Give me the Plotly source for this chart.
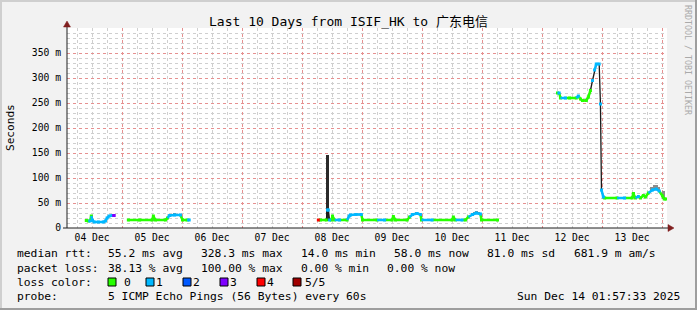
import plotly.graph_objects as go
import pandas as pd

# ---------------- data ----------------
times = [
    "2025-12-04 09:40", "2025-12-04 10:30", "2025-12-04 11:10", "2025-12-04 11:40",
    "2025-12-04 12:10", "2025-12-04 12:50", "2025-12-04 14:30", "2025-12-04 16:30",
    "2025-12-04 17:20", "2025-12-04 18:00", "2025-12-04 18:50", "2025-12-04 20:00",
    "2025-12-04 20:50", "2025-12-05 00:00",
    "2025-12-05 02:30", "2025-12-05 07:00", "2025-12-05 12:00", "2025-12-05 12:30",
    "2025-12-05 13:20", "2025-12-05 17:20", "2025-12-05 18:10", "2025-12-05 19:00",
    "2025-12-05 21:00", "2025-12-05 23:20", "2025-12-06 00:10", "2025-12-06 02:00",
    "2025-12-06 02:50", "2025-12-06 12:00",
    "2025-12-08 06:30", "2025-12-08 07:20", "2025-12-08 09:40", "2025-12-08 10:10",
    "2025-12-08 10:30", "2025-12-08 11:00", "2025-12-08 11:40", "2025-12-08 12:10",
    "2025-12-08 13:00", "2025-12-08 15:00", "2025-12-08 18:00", "2025-12-08 18:50",
    "2025-12-08 19:20", "2025-12-08 21:30", "2025-12-08 23:40", "2025-12-09 00:10",
    "2025-12-09 06:00", "2025-12-09 09:00", "2025-12-09 12:00", "2025-12-09 12:30",
    "2025-12-09 13:20", "2025-12-09 18:00", "2025-12-09 19:00", "2025-12-09 20:10",
    "2025-12-09 22:00", "2025-12-09 23:20", "2025-12-09 23:45", "2025-12-10 04:00",
    "2025-12-10 12:00", "2025-12-10 12:30", "2025-12-10 13:20", "2025-12-10 16:00",
    "2025-12-10 17:20", "2025-12-10 18:30", "2025-12-10 20:10", "2025-12-10 21:40",
    "2025-12-10 23:20", "2025-12-10 23:45", "2025-12-11 06:10", "2025-12-11 12:00",
    "2025-12-12 06:10", "2025-12-12 06:50", "2025-12-12 07:20", "2025-12-12 09:20",
    "2025-12-12 11:00", "2025-12-12 13:40", "2025-12-12 14:30", "2025-12-12 15:20",
    "2025-12-12 16:10", "2025-12-12 17:40", "2025-12-12 18:30", "2025-12-12 19:20",
    "2025-12-12 20:10", "2025-12-12 21:00", "2025-12-12 21:40", "2025-12-12 22:50",
    "2025-12-12 23:20", "2025-12-12 23:45", "2025-12-13 00:30", "2025-12-13 01:00",
    "2025-12-13 06:00", "2025-12-13 09:00", "2025-12-13 12:00", "2025-12-13 12:30",
    "2025-12-13 13:20", "2025-12-13 14:30", "2025-12-13 15:20", "2025-12-13 16:30",
    "2025-12-13 17:20", "2025-12-13 18:30", "2025-12-13 20:10", "2025-12-13 21:40",
    "2025-12-13 22:50", "2025-12-14 00:10", "2025-12-14 00:50", "2025-12-14 01:40",
]
median_ms = [
    15, 14, 14, 24, 15, 12, 12, 12, 14, 20, 24, 25, 25, None,
    16, 16, 16, 24, 16, 16, 20, 25, 26, 26, 16, 16, 16, None,
    16, 16, 16, 36, 36, 16, 16, 24, 16, 16, 16, 24, 26, 27, 27, 16,
    16, 16, 16, 23, 16, 16, 22, 27, 29, 27, 16, 16,
    16, 22, 16, 16, 16, 22, 27, 30, 28, 16, 16, None,
    270, 270, 260, 260, 260, 260, 264, 258, 255, 255, 262, 275,
    295, 316, 328, 328, 248, 76, 62, 60,
    60, 60, 60, 69, 60, 63, 60, 65, 62, 70, 76, 78, 74, 64, 58, 58,
]
loss = [
    0, 0, 1, 0, 1, 1, 1, 1, 1, 1, 1, 1, 3, 0,
    0, 0, 0, 0, 0, 0, 0, 1, 1, 1, 0, 0, 1, 0,
    4, 0, 0, 1, 1, 1, 0, 0, 0, 1, 0, 1, 1, 1, 1, 0,
    0, 1, 0, 0, 0, 0, 0, 1, 1, 1, 0, 1,
    0, 0, 0, 1, 0, 0, 1, 1, 1, 0, 0, 0,
    0, 1, 0, 1, 0, 0, 1, 0, 0, 0, 0, 0,
    1, 1, 1, 1, 1, 1, 1, 0,
    0, 1, 0, 0, 0, 1, 0, 0, 0, 0, 1, 1, 1, 0, 0, 0,
]

smoke_time = [
    "2025-12-04 11:40", "2025-12-05 12:30", "2025-12-05 20:00", "2025-12-05 21:00",
    "2025-12-05 22:00", "2025-12-08 10:10", "2025-12-08 10:30", "2025-12-08 12:10",
    "2025-12-09 20:40", "2025-12-09 21:40", "2025-12-09 22:40", "2025-12-10 12:30",
    "2025-12-10 20:40", "2025-12-10 21:40", "2025-12-10 22:40", "2025-12-13 12:30",
    "2025-12-13 19:40", "2025-12-13 20:40", "2025-12-13 21:40", "2025-12-13 22:40",
    "2025-12-14 00:30",
]
smoke_lo = [14, 15, 25, 26, 26, 14, 14, 15, 27, 28, 27, 15, 28, 30, 28, 60, 74, 76, 77, 73, 58]
smoke_hi = [26, 25, 28, 29, 28, 147, 147, 25, 31, 32, 31, 23, 32, 34, 32, 72, 82, 86, 86, 82, 74]

loss_colors = ["#26ff00", "#00b8ff", "#0059ff", "#7e00ff", "#ff0000", "#a00000"]
loss_names = ["0", "1", "2", "3", "4", "5/5"]

day_ticks = ["2025-12-%02d 00:00" % d for d in range(5, 15)]
day_labels = ["04 Dec", "05 Dec", "06 Dec", "07 Dec", "08 Dec",
              "09 Dec", "10 Dec", "11 Dec", "12 Dec", "13 Dec"]
y_ticks = [0, 50, 100, 150, 200, 250, 300, 350]
y_labels = ["0", "50 m", "100 m", "150 m", "200 m", "250 m", "300 m", "350 m"]

title_text = "Last 10 Days from ISIF_HK to 广东电信"
rtt_row = ["median rtt:", "55.2 ms avg", "328.3 ms max", "14.0 ms min",
           "58.0 ms now", "81.0 ms sd", "681.9 m am/s"]
loss_row = ["packet loss:", "38.13 % avg", "100.00 % max", "0.00 % min", "0.00 % now"]
probe_text = "5 ICMP Echo Pings (56 Bytes) every 60s"
stamp_text = "Sun Dec 14 01:57:33 2025"

# ---------------- layout helpers ----------------
W_IMG, H_IMG = 697, 310
L, R, T, B = 67, 667, 28, 228
PW, PH = R - L, B - T
MONO = "DejaVu Sans Mono, Noto Sans CJK SC, monospace"


def fx(px):
    return (px - L) / PW


def fy(py):
    return (B - py) / PH


# minor grid positions (every 6 hours / every 10 ms), skipping the major ones
x_minor = [t.strftime("%Y-%m-%d %H:%M") for t in
           pd.date_range("2025-12-04 06:00", "2025-12-14 00:00", freq="6h") if t.hour != 0]
y_minor = [v for v in range(10, 410, 10) if v % 50 != 0]

fig = go.Figure()

# smoke
smoke_col = ["#2a2a2a" if (h - l) > 40 else "#8c8c8c" for l, h in zip(smoke_lo, smoke_hi)]
smoke_w = [2100000 if (h - l) > 40 else 3600000 for l, h in zip(smoke_lo, smoke_hi)]
fig.add_trace(go.Bar(
    x=smoke_time, y=[h - l for l, h in zip(smoke_lo, smoke_hi)], base=smoke_lo,
    width=smoke_w, marker=dict(color=smoke_col, line=dict(width=0)),
    showlegend=False, hoverinfo="skip"))

# dark connecting line underneath
fig.add_trace(go.Scatter(
    x=times, y=median_ms, mode="lines", connectgaps=False,
    line=dict(color="#1a1a1a", width=1.3), showlegend=False, hoverinfo="skip"))

# coloured median segments, by loss
for c, col in enumerate(loss_colors):
    xs, ys = [], []
    for i in range(1, len(times)):
        a, b = median_ms[i - 1], median_ms[i]
        if a is None or b is None or loss[i] != c:
            continue
        if abs(b - a) > 18:
            continue
        xs += [times[i - 1], times[i], None]
        ys += [a, b, None]
    if xs:
        fig.add_trace(go.Scatter(x=xs, y=ys, mode="lines",
                                 line=dict(color=col, width=2.5),
                                 showlegend=False, hoverinfo="skip"))
    px_ = [t for t, m, l in zip(times, median_ms, loss) if m is not None and l == c]
    py_ = [m for t, m, l in zip(times, median_ms, loss) if m is not None and l == c]
    if px_:
        fig.add_trace(go.Scatter(x=px_, y=py_, mode="markers",
                                 marker=dict(color=col, size=3, symbol="square",
                                             line=dict(width=0)),
                                 showlegend=False, hoverinfo="skip"))

GRID = "#cfcfcf"
MGRID = "#e69090"

fig.update_layout(
    width=W_IMG, height=H_IMG,
    margin=dict(l=L, r=W_IMG - R, t=T, b=H_IMG - B, pad=0),
    paper_bgcolor="#f2f2f2", plot_bgcolor="#ffffff",
    barmode="overlay", bargap=0,
    font=dict(family=MONO, size=10, color="#000000"),
    xaxis=dict(
        type="date", range=["2025-12-04 01:57:33", "2025-12-14 01:57:33"],
        tickmode="array", tickvals=day_ticks, ticktext=day_labels,
        ticklabelshift=-30, ticklabelstandoff=2, ticks="",
        showgrid=True, gridcolor=MGRID, griddash="dot", gridwidth=1,
        minor=dict(tickmode="array", tickvals=x_minor, showgrid=True,
                   gridcolor=GRID, griddash="dot", gridwidth=1),
        showline=False, zeroline=False, fixedrange=True,
        tickfont=dict(family=MONO, size=9.7, color="#000000"),
    ),
    yaxis=dict(
        range=[0, 400], tickmode="array", tickvals=y_ticks, ticktext=y_labels,
        ticks="", ticklabelstandoff=5,
        showgrid=True, gridcolor=MGRID, griddash="dot", gridwidth=1,
        minor=dict(tickmode="array", tickvals=y_minor, showgrid=True, gridcolor=GRID,
                   griddash="dot", gridwidth=1),
        showline=False, zeroline=False, fixedrange=True,
        tickfont=dict(family=MONO, size=9.7, color="#000000"),
    ),
)

shapes = []
# frame shading
shapes.append(dict(type="rect", xref="paper", yref="paper", x0=fx(0), x1=fx(W_IMG),
                   y0=fy(0), y1=fy(2), fillcolor="#cfcfcf", line=dict(width=0)))
shapes.append(dict(type="rect", xref="paper", yref="paper", x0=fx(0), x1=fx(2),
                   y0=fy(0), y1=fy(H_IMG), fillcolor="#cfcfcf", line=dict(width=0)))
shapes.append(dict(type="rect", xref="paper", yref="paper", x0=fx(0), x1=fx(W_IMG),
                   y0=fy(H_IMG - 2), y1=fy(H_IMG), fillcolor="#9e9e9e", line=dict(width=0)))
shapes.append(dict(type="rect", xref="paper", yref="paper", x0=fx(W_IMG - 2), x1=fx(W_IMG),
                   y0=fy(0), y1=fy(H_IMG), fillcolor="#9e9e9e", line=dict(width=0)))
# axes
AX = "#1f1f1f"
ARROW = "#801f1f"
shapes.append(dict(type="line", xref="paper", yref="paper", x0=fx(L), x1=fx(L),
                   y0=fy(B), y1=fy(26), line=dict(color=AX, width=1)))
shapes.append(dict(type="line", xref="paper", yref="paper", x0=fx(63), x1=fx(669),
                   y0=fy(B), y1=fy(B), line=dict(color=AX, width=1)))
shapes.append(dict(type="path", xref="paper", yref="paper",
                   path="M %f,%f L %f,%f L %f,%f Z" % (fx(L - 3.5), fy(27), fx(L), fy(21),
                                                       fx(L + 3.5), fy(27)),
                   fillcolor=ARROW, line=dict(color=ARROW, width=0.5)))
shapes.append(dict(type="path", xref="paper", yref="paper",
                   path="M %f,%f L %f,%f L %f,%f Z" % (fx(668), fy(B - 3.5), fx(674), fy(B),
                                                       fx(668), fy(B + 3.5)),
                   fillcolor=ARROW, line=dict(color=ARROW, width=0.5)))
# loss color boxes
box_x = [108, 146, 183, 220, 257, 293]
for bx, col in zip(box_x, loss_colors):
    shapes.append(dict(type="rect", xref="paper", yref="paper", x0=fx(bx), x1=fx(bx + 8),
                       y0=fy(286), y1=fy(278), fillcolor=col,
                       line=dict(color="#000000", width=1)))
fig.update_layout(shapes=shapes)

ann = []


def text(px, py, s, size=11.3, anchor="left", color="#000000", angle=0):
    ann.append(dict(x=fx(px), y=fy(py), xref="paper", yref="paper", text=s,
                    showarrow=False, xanchor=anchor, yanchor="middle",
                    font=dict(family=MONO, size=size, color=color),
                    textangle=angle, borderpad=0))


text(348.5, 22, title_text, size=13, anchor="center")
text(10, 128, "Seconds", size=11.1, anchor="center", angle=-90)
text(688, 60, "RRDTOOL / TOBI OETIKER", size=8.3, anchor="center", color="#aaaaaa", angle=90)

rtt_x = [16, 107, 200, 300, 393, 486, 573]
for px, s in zip(rtt_x, rtt_row):
    text(px, 254, s)
loss_x = [16, 107, 200, 300, 386]
for px, s in zip(loss_x, loss_row):
    text(px, 268, s)
text(16, 282, "loss color:")
lbl_x = [123, 155, 192, 229, 266, 304]
for px, s in zip(lbl_x, loss_names):
    text(px, 282, s)
text(16, 296, "probe:")
text(107, 296, probe_text)
text(681, 296, stamp_text, anchor="right")
fig.update_layout(annotations=ann)

fig.write_html("out.html")
